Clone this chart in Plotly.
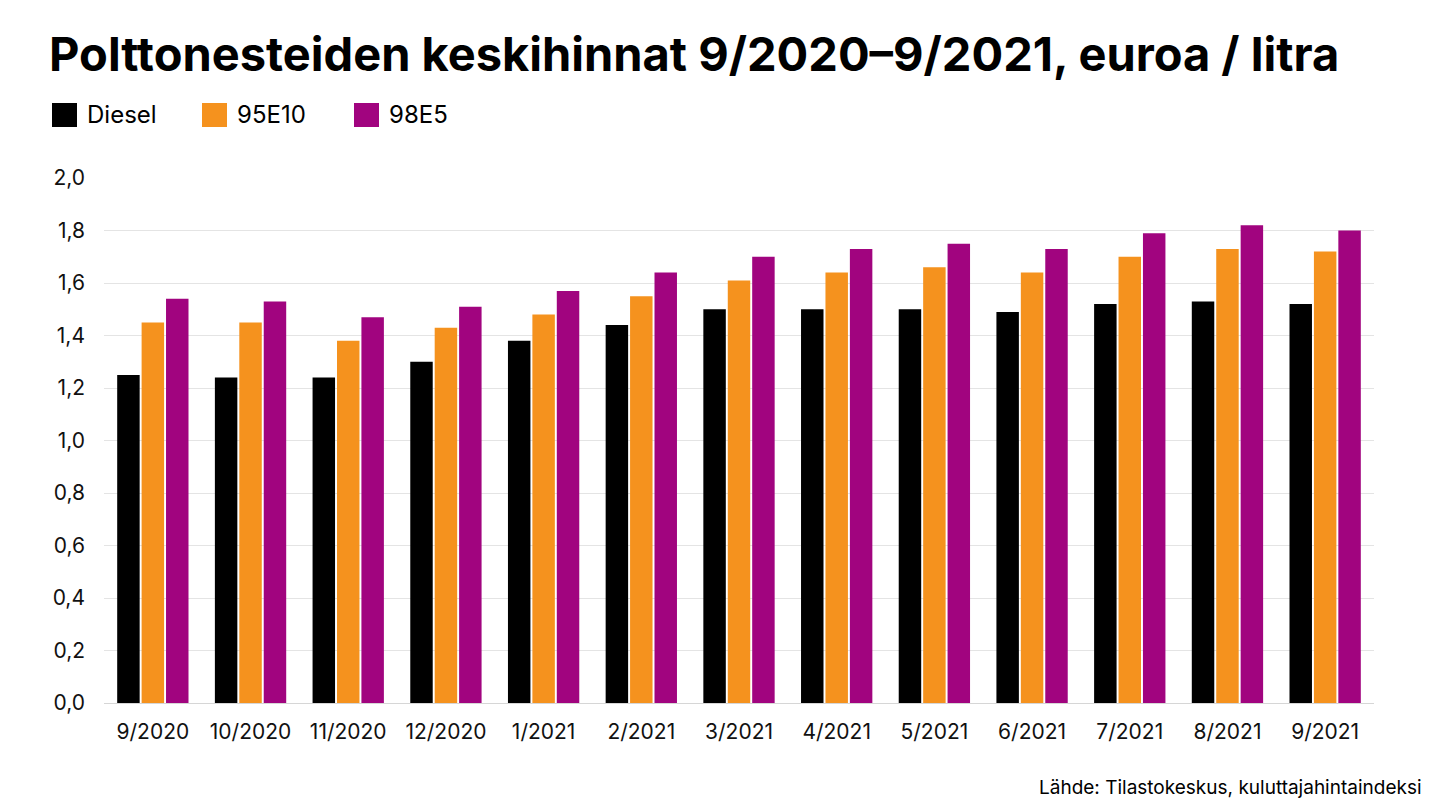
import plotly.graph_objects as go

months = ["9/2020", "10/2020", "11/2020", "12/2020", "1/2021", "2/2021", "3/2021",
          "4/2021", "5/2021", "6/2021", "7/2021", "8/2021", "9/2021"]
diesel = [1.25, 1.24, 1.24, 1.30, 1.38, 1.44, 1.50, 1.50, 1.50, 1.49, 1.52, 1.53, 1.52]
e10 = [1.45, 1.45, 1.38, 1.43, 1.48, 1.55, 1.61, 1.64, 1.66, 1.64, 1.70, 1.73, 1.72]
e5 = [1.54, 1.53, 1.47, 1.51, 1.57, 1.64, 1.70, 1.73, 1.75, 1.73, 1.79, 1.82, 1.80]
series_names = ["Diesel", "95E10", "98E5"]
colors = ["#000000", "#F5921E", "#A1047F"]
y_ticks = [0, 0.2, 0.4, 0.6, 0.8, 1.0, 1.2, 1.4, 1.6, 1.8, 2.0]

title_text = "Polttonesteiden keskihinnat 9/2020–9/2021, euroa / litra"
source_text = "Lähde: Tilastokeskus, kuluttajahintaindeksi"

FONT = "Inter"
OFF = 8  # page body margin
W, H = 1440 - OFF, 810 - OFF
L, R, T, B = 104 - OFF, 66, 178 - OFF, 107
PW, PH = W - L - R, H - T - B


def px(x):
    return (x - OFF - L) / PW


def py(y):
    return (H - B - (y - OFF)) / PH


fig = go.Figure()
for name, vals, col in zip(series_names, [diesel, e10, e5], colors):
    fig.add_trace(go.Bar(
        x=months, y=vals, name=name, marker=dict(color=col, line=dict(width=0)),
        showlegend=False,
        hovertemplate="%{x}: %{y:.2f}<extra>" + name + "</extra>",
    ))

# Custom legend (large squares)
legend_x = [52, 202, 354]
shapes = []
annotations = []
for lx, name, col in zip(legend_x, series_names, colors):
    shapes.append(dict(type="rect", xref="paper", yref="paper",
                       x0=px(lx), x1=px(lx + 25), y0=py(127), y1=py(103),
                       fillcolor=col, line=dict(width=0)))
    annotations.append(dict(text=name, xref="paper", yref="paper",
                            x=px(lx + 33), y=py(115),
                            xanchor="left", yanchor="middle", showarrow=False,
                            font=dict(family=FONT, size=24, color="#000000")))

annotations.append(dict(text=source_text, xref="paper", yref="paper",
                        x=px(1424), y=py(787),
                        xanchor="right", yanchor="middle", showarrow=False,
                        font=dict(family=FONT, size=19, color="#000000")))

fig.update_layout(
    width=W, height=H,
    margin=dict(l=L, r=R, t=T, b=B),
    paper_bgcolor="white", plot_bgcolor="white",
    separators=", ",
    barmode="group", bargap=0.25, bargroupgap=0.08,
    title=dict(text="<b>" + title_text + "</b>", xref="container", yref="container",
               x=(49 - OFF) / W, xanchor="left", y=1 - (55 - OFF) / H, yanchor="middle",
               font=dict(family=FONT, size=47, color="#000000")),
    shapes=shapes,
    annotations=annotations,
    font=dict(family=FONT, color="#000000"),
)
fig.update_xaxes(
    showgrid=False, showline=False, ticks="",
    tickfont=dict(family=FONT, size=21, color="#111111"),
    ticklabelstandoff=14,
)
fig.update_yaxes(
    range=[0, 2.0], tickvals=y_ticks, tickformat=".1f",
    showgrid=True, gridcolor="#e4e4e4", gridwidth=1,
    zeroline=True, zerolinecolor="#d6d6d6", zerolinewidth=1,
    showline=False, ticks="",
    tickfont=dict(family=FONT, size=21, color="#111111"),
    ticklabelstandoff=18,
)

fig.write_html("out.html")
